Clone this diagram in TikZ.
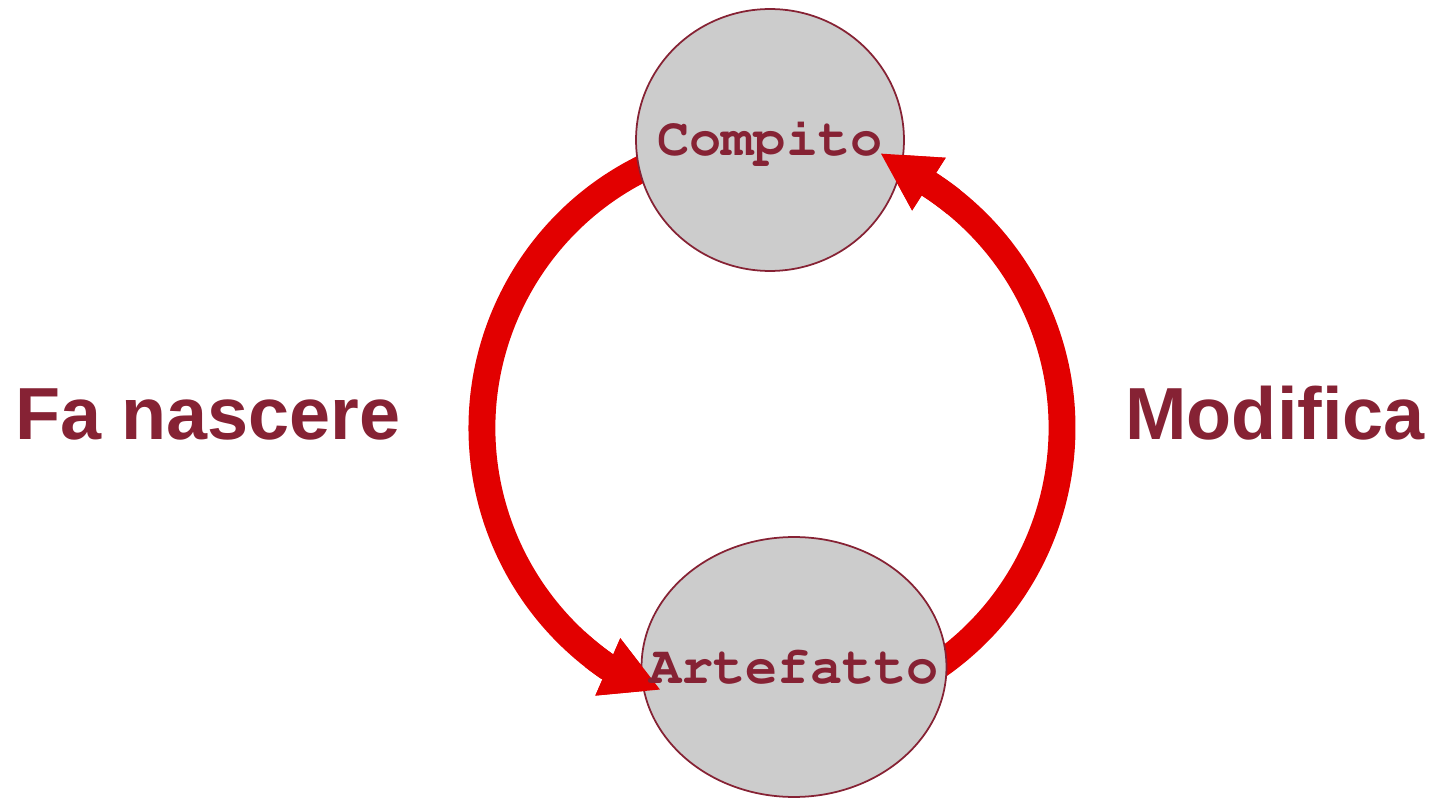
\documentclass[tikz,border=0pt]{standalone}
\usepackage[T1]{fontenc}
\usepackage{fontspec}
\setmainfont{Liberation Sans}
\usetikzlibrary{shapes.geometric,arrows.meta}

\newcommand{\courier}{\fontencoding{T1}\fontfamily{pcr}\fontseries{b}\selectfont}

\definecolor{vino}{RGB}{134,34,52}
\definecolor{rosso}{RGB}{226,0,0}
\definecolor{grigio}{RGB}{204,204,204}

\pgfdeclarelayer{back}
\pgfdeclarelayer{front}
\pgfsetlayers{back,main,front}

\tikzset{
  stato/.style={ellipse,draw=vino,line width=1pt,fill=grigio,inner sep=0pt},
  nome/.style={anchor=base,inner sep=0pt,text=vino,font=\courier\fontsize{30.5}{32}\selectfont},
  verbo/.style={anchor=base,inner sep=0pt,text=vino,font=\bfseries\fontsize{42}{46}\selectfont},
  flusso/.style={draw=rosso,line width=15.3pt,line cap=butt},
  punta/.style={-{Triangle[length=33pt,width=33pt]}}
}

\begin{document}
\begin{tikzpicture}[x=0.02cm,y=0.02cm]
  \def\r{290}
  \useasboundingbox (0,0) rectangle (1431,799);
  \coordinate (hub) at (772,371);

  % Stati
  \node[stato,minimum width=5.36cm,minimum height=5.24cm] (compito) at (770,659) {};
  \node[stato,minimum width=6.1cm,minimum height=5.2cm] (artefatto) at (794,132) {};

  % Nomi
  \begin{pgfonlayer}{front}
    \node[nome] (compito-txt) at (770,643) {Compito};
    \node[nome] (artefatto-txt) at (794,116) {Artefatto};
  \end{pgfonlayer}

  % Estremi degli archi (circonferenza attorno a hub)
  \coordinate (nasce-da) at ([shift={(110:\r)}]hub);
  \coordinate (nasce-a) at (661,109);
  \coordinate (modifica-da) at ([shift={(-60:\r)}]hub);
  \coordinate (modifica-a) at (880,646);

  % Archi: la coda passa sotto gli stati ...
  \begin{pgfonlayer}{back}
    \draw[flusso,punta] (nasce-da) arc[start angle=110,end angle=235.4,radius=\r] -- (nasce-a);
    \draw[flusso,punta] (modifica-da) arc[start angle=-60,end angle=57.2,radius=\r] -- (modifica-a);
  \end{pgfonlayer}
  % ... la punta sopra
  \begin{scope}
    \clip (585,95) rectangle (675,175);
    \draw[flusso,punta] (nasce-da) arc[start angle=110,end angle=235.4,radius=\r] -- (nasce-a);
  \end{scope}
  \begin{scope}
    \clip (870,585) rectangle (960,655);
    \draw[flusso,punta] (modifica-da) arc[start angle=-60,end angle=57.2,radius=\r] -- (modifica-a);
  \end{scope}

  % Verbi
  \node[verbo] (fa-nascere) at (208,359) {Fa nascere};
  \node[verbo] (modifica) at (1275,359) {Modifica};
\end{tikzpicture}
\end{document}
